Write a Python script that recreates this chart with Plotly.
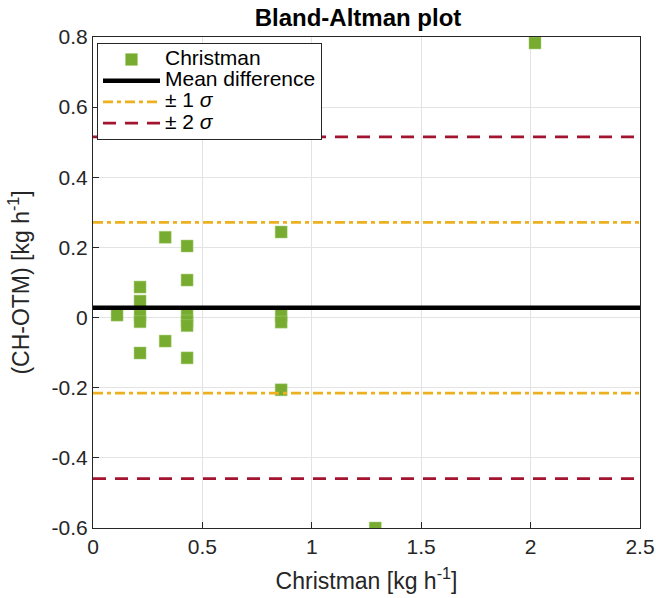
import plotly.graph_objects as go

# Data
x_vals = [0.11, 0.215, 0.215, 0.215, 0.215, 0.215, 0.33, 0.33,
          0.43, 0.43, 0.43, 0.43, 0.43, 0.43, 0.86, 0.86, 0.86, 0.86, 1.29, 2.02]
y_vals = [0.007, 0.087, 0.047, 0.005, -0.012, -0.101, 0.229, -0.067,
          0.204, 0.107, 0.006, -0.01, -0.023, -0.115, 0.244, 0.006, -0.013, -0.206, -0.6, 0.783]
mean_diff = 0.028
sigma = 0.2435
x_range = [0, 2.5]
x_ticks = [0, 0.5, 1, 1.5, 2, 2.5]
x_ticklabels = ["0", "0.5", "1", "1.5", "2", "2.5"]
y_ticks = [-0.6, -0.4, -0.2, 0, 0.2, 0.4, 0.6, 0.8]
y_ticklabels = ["-0.6", "-0.4", "-0.2", "0", "0.2", "0.4", "0.6", "0.8"]
legend_names = ["Christman", "Mean difference", "± 1 <i>σ</i>", "± 2 <i>σ</i>"]

green = "#77AC30"
yellow = "#EDB120"
red = "#A2142F"


def big(txt):
    return '<span style="font-size:21px">' + txt + '</span>'


fig = go.Figure()
fig.add_trace(go.Scatter(x=x_vals, y=y_vals, mode="markers", name=big(legend_names[0]),
                         marker=dict(symbol="square", size=12, color=green,
                                     line=dict(width=0.5, color="#a8cc78"))))
fig.add_trace(go.Scatter(x=x_range, y=[mean_diff, mean_diff], mode="lines",
                         name=big(legend_names[1]), line=dict(color="black", width=4.5)))
u1, l1 = mean_diff + sigma, mean_diff - sigma
u2, l2 = mean_diff + 2 * sigma, mean_diff - 2 * sigma
fig.add_trace(go.Scatter(x=[x_range[0], x_range[1], None, x_range[0], x_range[1]],
                         y=[u1, u1, None, l1, l1], mode="lines",
                         name=big(legend_names[2]),
                         line=dict(color=yellow, width=2.8, dash="10px,4px,4px,4px")))
fig.add_trace(go.Scatter(x=[x_range[0], x_range[1], None, x_range[0], x_range[1]],
                         y=[u2, u2, None, l2, l2], mode="lines",
                         name=big(legend_names[3]),
                         line=dict(color=red, width=2.8, dash="13px,9px")))

axis_common = dict(showline=True, linecolor="#262626", linewidth=1, mirror=True,
                   ticks="inside", ticklen=6, tickcolor="#262626",
                   showgrid=True, gridcolor="#e3e3e3", gridwidth=1, zeroline=False,
                   tickfont=dict(size=21, color="#262626"), automargin=False)

fig.update_xaxes(range=x_range, tickmode="array", tickvals=x_ticks, ticktext=x_ticklabels,
                 title=dict(text="Christman [kg h<sup>-1</sup>]", font=dict(size=23, color="#262626")),
                 **axis_common)
fig.update_yaxes(range=[-0.6, 0.8], tickmode="array", tickvals=y_ticks, ticktext=y_ticklabels,
                 title=dict(text="(CH-OTM) [kg h<sup>-1</sup>]", font=dict(size=23, color="#262626")),
                 **axis_common)

fig.update_layout(
    width=656, height=598,
    margin=dict(l=93, r=16, t=37, b=70),
    plot_bgcolor="white", paper_bgcolor="white",
    font=dict(family="Liberation Sans, Arial, sans-serif", color="#262626"),
    title=dict(text="<b>Bland-Altman plot</b>", x=0.5457, xref="container", xanchor="center",
               y=0.9707, yref="container", yanchor="middle",
               font=dict(size=24, color="black")),
    legend=dict(x=0.0073, y=0.988, xanchor="left", yanchor="top",
                bgcolor="white", bordercolor="#262626", borderwidth=1,
                font=dict(size=14, color="black"), tracegroupgap=0,
                itemwidth=57),
    showlegend=True,
)

fig.write_html("out.html", config={"displayModeBar": False},
               post_script="document.body.style.margin='0px';document.body.style.overflow='hidden';")
